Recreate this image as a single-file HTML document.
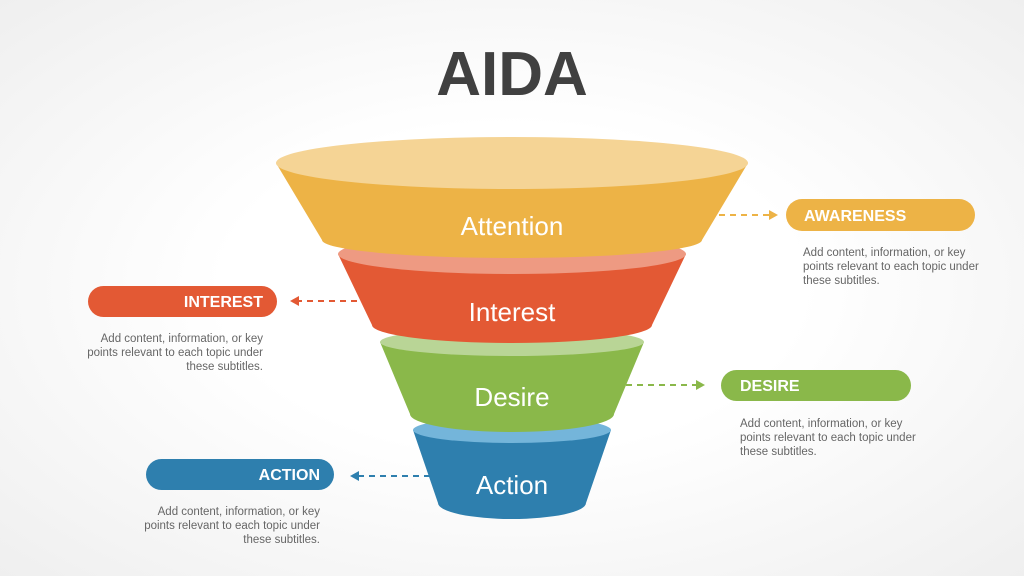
<!DOCTYPE html>
<html><head><meta charset="utf-8"><style>
html,body{margin:0;padding:0;}
body{width:1024px;height:576px;overflow:hidden;background:radial-gradient(ellipse at 50% 50%,#ffffff 40%,#efefef 100%);font-family:"Liberation Sans",sans-serif;}
svg{position:absolute;left:0;top:0;}
</style></head><body>
<svg width="1024" height="576" viewBox="0 0 1024 576" xmlns="http://www.w3.org/2000/svg" font-family="Liberation Sans, sans-serif">
<text x="512" y="95" text-anchor="middle" font-size="62" font-weight="bold" fill="#404040">AIDA</text>
<!-- blue -->
<path d="M413 430 L438 503 A74 16 0 0 0 586 503 L611 430 Z" fill="#2e7fae"/>
<ellipse cx="512" cy="430" rx="99" ry="13" fill="#74b5da"/>
<!-- green -->
<path d="M380 342 L410 414 A102 18 0 0 0 614 414 L644 342 Z" fill="#8ab84a"/>
<ellipse cx="512" cy="342" rx="132" ry="14" fill="#b9d596"/>
<!-- red -->
<path d="M338 254 L372 325 A140 18 0 0 0 652 325 L686 254 Z" fill="#e35934"/>
<ellipse cx="512" cy="254" rx="174" ry="20" fill="#ee9a82"/>
<!-- yellow -->
<path d="M276 163 L322 240 A190 18 0 0 0 702 240 L748 163 Z" fill="#edb346"/>
<ellipse cx="512" cy="163" rx="236" ry="26" fill="#f5d495"/>
<g fill="#fff" font-size="26" text-anchor="middle">
<text x="512" y="235">Attention</text>
<text x="512" y="321">Interest</text>
<text x="512" y="406">Desire</text>
<text x="512" y="494">Action</text>
</g>
<g stroke-width="2" stroke-dasharray="6 5" fill="none">
<line x1="708" y1="215" x2="770" y2="215" stroke="#edb346"/>
<line x1="368" y1="301" x2="298" y2="301" stroke="#e35934"/>
<line x1="626" y1="385" x2="697" y2="385" stroke="#8ab84a"/>
<line x1="430" y1="476" x2="358" y2="476" stroke="#2e7fae"/>
</g>
<polygon points="778,215 769,210 769,220" fill="#edb346"/>
<polygon points="290,301 299,296 299,306" fill="#e35934"/>
<polygon points="705,385 696,380 696,390" fill="#8ab84a"/>
<polygon points="350,476 359,471 359,481" fill="#2e7fae"/>
<rect x="786" y="199" width="189" height="32" rx="16" fill="#edb346"/>
<rect x="88" y="286" width="189" height="31" rx="15.5" fill="#e35934"/>
<rect x="721" y="370" width="190" height="31" rx="15.5" fill="#8ab84a"/>
<rect x="146" y="459" width="188" height="31" rx="15.5" fill="#2e7fae"/>
<g fill="#fff" font-size="16" font-weight="bold">
<text x="804" y="221">AWARENESS</text>
<text x="263" y="307" text-anchor="end">INTEREST</text>
<text x="740" y="391">DESIRE</text>
<text x="320" y="480" text-anchor="end">ACTION</text>
</g>
<g fill="#666" font-size="11.5">
<text x="803" y="256">Add content, information, or key</text>
<text x="803" y="270">points relevant to each topic under</text>
<text x="803" y="284">these subtitles.</text>
<text x="263" y="342" text-anchor="end">Add content, information, or key</text>
<text x="263" y="356" text-anchor="end">points relevant to each topic under</text>
<text x="263" y="370" text-anchor="end">these subtitles.</text>
<text x="740" y="427">Add content, information, or key</text>
<text x="740" y="441">points relevant to each topic under</text>
<text x="740" y="455">these subtitles.</text>
<text x="320" y="515" text-anchor="end">Add content, information, or key</text>
<text x="320" y="529" text-anchor="end">points relevant to each topic under</text>
<text x="320" y="543" text-anchor="end">these subtitles.</text>
</g>
</svg>
</body></html>
